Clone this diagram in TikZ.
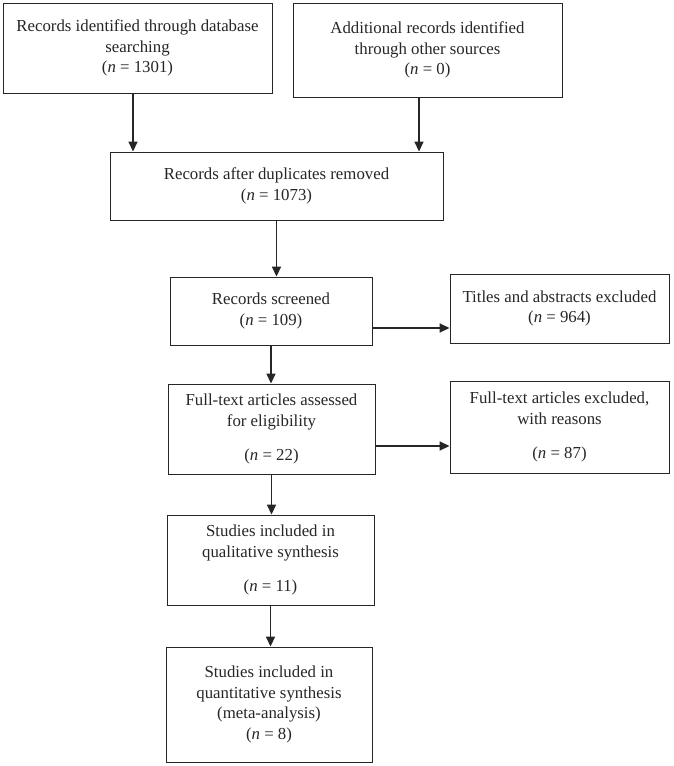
\documentclass[tikz,border=0pt]{standalone}
\usepackage{fontspec}
\setmainfont{Liberation Serif}
\usetikzlibrary{arrows.meta,positioning}
\colorlet{penColor}{black!85}
\tikzset{>={Triangle[length=10pt,width=9pt]}}
\tikzset{
  box/.style={draw=penColor, line width=0.9pt, align=center, inner sep=0pt,
    font=\fontsize{16.8}{20.5}\selectfont, text=penColor},
  flow/.style={->, penColor, line width=1.6pt}
}

\begin{document}
\begin{tikzpicture}[x=1pt,y=-1pt]
				\useasboundingbox (0,0) rectangle (673,766);
				% identification
				\node [box, minimum width=269pt, minimum height=90pt] (ident) at (137.5,48) {Records identified through database\\searching\\(\textit{n} = 1301)};
				\node [box, minimum width=269pt, minimum height=94pt] (other) at (427.5,50) {Additional records identified\\through other sources\\(\textit{n} = 0)};
				\node [box, minimum width=333pt, minimum height=68pt] (dupl) at (276.5,186) {Records after duplicates removed\\(\textit{n} = 1073)};
				% screening
				\node [box, minimum width=202pt, minimum height=68pt] (screen) at (271,311) {Records screened\\(\textit{n} = 109)};
				\node [box, minimum width=219pt, minimum height=69pt] (titles) at (559.5,308.5) {Titles and abstracts excluded\\(\textit{n} = 964)};
				% eligibility
				\node [box, minimum width=207pt, minimum height=90pt] (full) at (271.5,429) {Full-text articles assessed\\for eligibility\\[14pt](\textit{n} = 22)};
				\node [box, minimum width=219pt, minimum height=92pt] (fullex) at (559.5,427) {Full-text articles excluded,\\with reasons\\[14pt](\textit{n} = 87)};
				% included
				\node [box, minimum width=207pt, minimum height=90pt] (qual) at (270.5,560) {Studies included in\\qualitative synthesis\\[14pt](\textit{n} = 11)};
				\node [box, minimum width=206pt, minimum height=115pt] (quant) at (269,704.5) {Studies included in\\quantitative synthesis\\(meta-analysis)\\(\textit{n} = 8)};
				
				\draw [flow] ([xshift=-4.5pt]ident.south) -- ([xshift=-4.5pt]ident.south |- dupl.north);
				\draw [flow] ([xshift=-8.5pt]other.south) -- ([xshift=-8.5pt]other.south |- dupl.north);
				\draw [flow] (dupl.south) -- (dupl.south |- screen.north);
				\draw [flow] ([yshift=-17pt]screen.east) -- ([yshift=-17pt]screen.east -| titles.west);
				\draw [flow] (screen.south) -- (screen.south |- full.north);
				\draw [flow] ([yshift=-17pt]full.east) -- ([yshift=-17pt]full.east -| fullex.west);
				\draw [flow] (full.south) -- (full.south |- qual.north);
				\draw [flow] (qual.south) -- (qual.south |- quant.north);
				\end{tikzpicture}
\end{document}
